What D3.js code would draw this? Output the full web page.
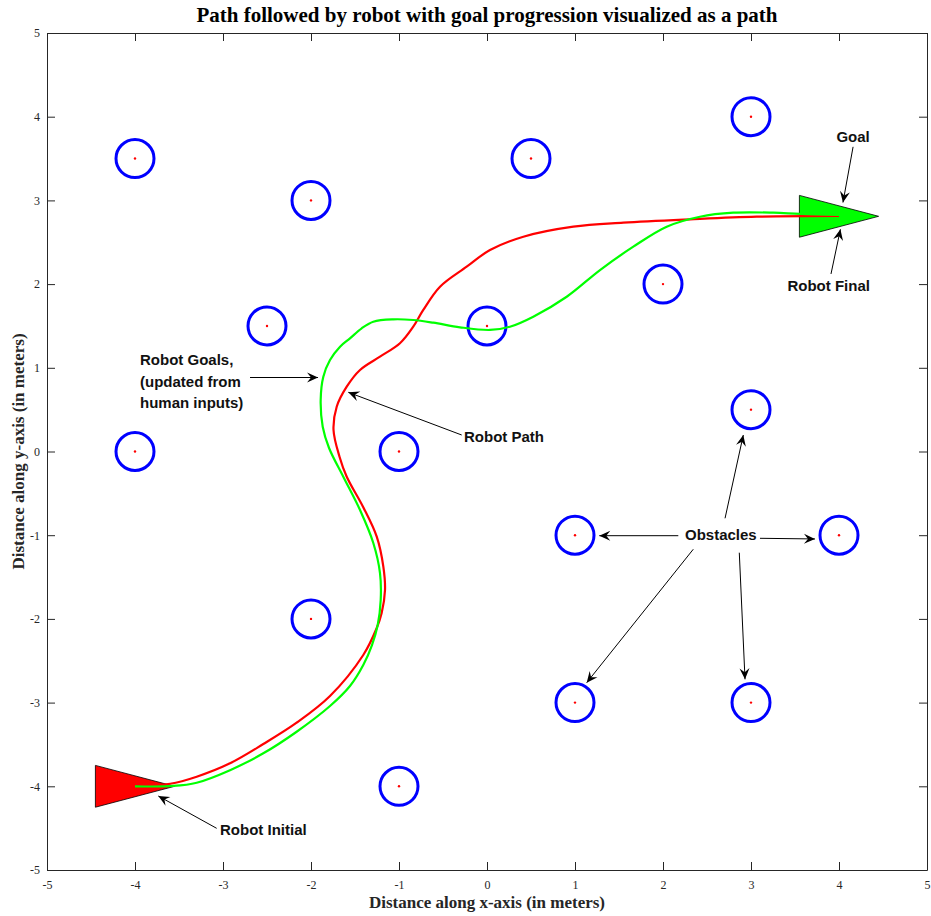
<!DOCTYPE html>
<html>
<head>
<meta charset="utf-8">
<script src="https://cdn.jsdelivr.net/npm/d3@7"></script>
<style>
  html, body { margin: 0; padding: 0; background: #fff; }
  svg { display: block; }
</style>
</head>
<body>
<svg id="chart" width="931" height="916"></svg>
<script>
// ---------------- DATA ----------------
const titleText = "Path followed by robot with goal progression visualized as a path";
const xLabelText = "Distance along x-axis (in meters)";
const yLabelText = "Distance along y-axis (in meters)";
const xTicks = [-5, -4, -3, -2, -1, 0, 1, 2, 3, 4, 5];
const yTicks = [-5, -4, -3, -2, -1, 0, 1, 2, 3, 4, 5];

const obstacleX = [-4, -2, 0.5, 3, -2.5, 0, 2, -4, -1, 3, 1, 4, -2, 1, 3, -1];
const obstacleY = [3.5, 3, 3.5, 4, 1.5, 1.5, 2, 0, 0, 0.5, -1, -1, -2, -3, -3, -4];

// Robot path (red)
const robotPathX = [-4.0, -3.6, -3.299, -2.92, -2.542, -2.163, -1.784, -1.406, -1.253, -1.197, -1.159, -1.178, -1.253, -1.409, -1.594, -1.676, -1.744, -1.708, -1.594, -1.443, -1.216, -0.989, -0.838, -0.724, -0.534, -0.231, 0.034, 0.413, 0.981, 1.549, 2.307, 3.065, 4.0];
const robotPathY = [-4.0, -3.97, -3.885, -3.725, -3.495, -3.24, -2.921, -2.431, -2.109, -1.93, -1.655, -1.376, -1.018, -0.66, -0.301, -0.062, 0.257, 0.535, 0.774, 0.974, 1.133, 1.293, 1.491, 1.691, 1.969, 2.208, 2.407, 2.566, 2.686, 2.734, 2.774, 2.805, 2.814];

// Goal progression path (green)
const goalPathX = [-4.0, -3.568, -3.299, -2.92, -2.542, -2.163, -1.784, -1.557, -1.406, -1.307, -1.242, -1.208, -1.216, -1.292, -1.443, -1.633, -1.795, -1.867, -1.89, -1.86, -1.784, -1.67, -1.557, -1.424, -1.292, -1.065, -0.838, -0.61, -0.307, 0.034, 0.261, 0.526, 0.906, 1.284, 1.663, 2.042, 2.42, 2.799, 3.253, 3.557, 4.0];
const goalPathY = [-4.0, -3.996, -3.957, -3.807, -3.606, -3.348, -3.041, -2.802, -2.551, -2.312, -2.073, -1.774, -1.452, -1.093, -0.699, -0.301, 0.042, 0.296, 0.615, 0.894, 1.093, 1.252, 1.352, 1.472, 1.551, 1.579, 1.571, 1.539, 1.484, 1.452, 1.491, 1.611, 1.849, 2.168, 2.447, 2.686, 2.805, 2.853, 2.853, 2.838, 2.826];

// Robot poses (initial / final) [x, y]
const initialPose = [-4.0, -4.0];
const finalPose = [4.0, 2.81];

// Annotations: text lines + anchor (data coords)
const annoTexts = [["Goal"], ["Robot Final"], ["Robot Goals,", "(updated from", "human inputs)"], ["Robot Path"], ["Robot Initial"], ["Obstacles"]];
const annoTextX = [4.16, 3.883, -3.943, -0.261, -3.034, 2.25];
const annoTextY = [3.70, 1.918, 1.033, 0.114, -4.582, -1.057];
const annoAnchor = ["middle", "middle", "start", "start", "start", "start"];
// Arrows: from (x1,y1) to (x2,y2)
const arrowX1 = [4.16, 3.909, -2.693, -0.2875, -3.072, 2.705, 2.174, 3.102, 2.344, 2.867];
const arrowY1 = [3.64, 2.121, 0.884, 0.197, -4.502, -0.798, -1.006, -1.037, -1.168, -1.209];
const arrowX2 = [4.045, 4.016, -1.92, -1.576, -3.735, 2.9125, 1.276, 3.727, 1.133, 2.932];
const arrowY2 = [2.975, 2.655, 0.884, 0.707, -4.116, 0.197, -1.006, -1.045, -2.762, -2.722];

// ---------------- LAYOUT ----------------
const W = 931, H = 916;
const margin = { left: 47, right: 4, top: 33, bottom: 46 };
const iw = W - margin.left - margin.right;
const ih = H - margin.top - margin.bottom;

const svg = d3.select("#chart");
const g = svg.append("g").attr("transform", `translate(${margin.left},${margin.top})`);

const x = d3.scaleLinear().domain([-5, 5]).range([0, iw]);
const y = d3.scaleLinear().domain([-5, 5]).range([ih, 0]);

const axisColor = "#262626";
const tickLen = 8;

// Background
g.append("rect").attr("width", iw).attr("height", ih).attr("fill", "#fff");

// Axes (inward ticks on all four sides)
const fmt = d => String(d);
const axB = g.append("g").attr("transform", `translate(0,${ih})`)
  .call(d3.axisBottom(x).tickValues(xTicks).tickFormat(fmt).tickSizeInner(-tickLen).tickSizeOuter(0).tickPadding(10));
const axT = g.append("g")
  .call(d3.axisTop(x).tickValues(xTicks).tickFormat("").tickSizeInner(-tickLen).tickSizeOuter(0));
const axL = g.append("g")
  .call(d3.axisLeft(y).tickValues(yTicks).tickFormat(fmt).tickSizeInner(-tickLen).tickSizeOuter(0).tickPadding(7));
const axR = g.append("g").attr("transform", `translate(${iw},0)`)
  .call(d3.axisRight(y).tickValues(yTicks).tickFormat("").tickSizeInner(-tickLen).tickSizeOuter(0));

[axB, axT, axL, axR].forEach(a => {
  a.select(".domain").attr("stroke", axisColor).attr("stroke-width", 1);
  a.selectAll(".tick line").attr("stroke", axisColor).attr("stroke-width", 1);
  a.selectAll(".tick text").attr("fill", axisColor)
    .style("font-family", "'Liberation Serif', 'Times New Roman', serif").style("font-size", "12px");
});

// Obstacles
const obstacles = obstacleX.map((d, i) => ({ x: d, y: obstacleY[i] }));
g.append("g").selectAll("circle").data(obstacles).join("circle")
  .attr("cx", d => x(d.x)).attr("cy", d => y(d.y)).attr("r", 19)
  .attr("fill", "none").attr("stroke", "#0000ff").attr("stroke-width", 3);
g.append("g").selectAll("circle").data(obstacles).join("circle")
  .attr("cx", d => x(d.x)).attr("cy", d => y(d.y)).attr("r", 1.2)
  .attr("fill", "#ff0000");

// Robot pose triangles
const triHalfLen = 0.45, triHalfWid = 0.25;
function triPts(p) {
  return [[p[0] - triHalfLen, p[1] + triHalfWid], [p[0] - triHalfLen, p[1] - triHalfWid], [p[0] + triHalfLen, p[1]]]
    .map(q => [x(q[0]), y(q[1])]);
}
g.append("polygon").attr("points", triPts(initialPose).map(p => p.join(",")).join(" "))
  .attr("fill", "#ff0000").attr("stroke", "#000").attr("stroke-width", 0.8);
g.append("polygon").attr("points", triPts(finalPose).map(p => p.join(",")).join(" "))
  .attr("fill", "#00ff00").attr("stroke", "#000").attr("stroke-width", 0.8);

// Paths
const line = d3.line().x(d => x(d[0])).y(d => y(d[1])).curve(d3.curveCatmullRom.alpha(0.5));
g.append("path").datum(robotPathX.map((d, i) => [d, robotPathY[i]]))
  .attr("d", line).attr("fill", "none").attr("stroke", "#ff0000").attr("stroke-width", 2.2);
g.append("path").datum(goalPathX.map((d, i) => [d, goalPathY[i]]))
  .attr("d", line).attr("fill", "none").attr("stroke", "#00ff00").attr("stroke-width", 2.2);

// Arrow marker
svg.append("defs").append("marker")
  .attr("id", "ah").attr("viewBox", "-12 -6 14 12")
  .attr("refX", 0).attr("refY", 0)
  .attr("markerWidth", 14).attr("markerHeight", 12)
  .attr("markerUnits", "userSpaceOnUse").attr("orient", "auto")
  .append("path").attr("d", "M0,0 L-11,-5 L-7,0 L-11,5 Z").attr("fill", "#000");

// Annotations
const annoFont = "'Liberation Sans', Arial, Helvetica, sans-serif";
arrowX1.forEach((d, i) => {
  g.append("line")
    .attr("x1", x(d)).attr("y1", y(arrowY1[i]))
    .attr("x2", x(arrowX2[i])).attr("y2", y(arrowY2[i]))
    .attr("stroke", "#000").attr("stroke-width", 1)
    .attr("marker-end", "url(#ah)");
});
annoTexts.forEach((lines, i) => {
  const t = g.append("text")
    .attr("x", x(annoTextX[i])).attr("y", y(annoTextY[i]))
    .attr("text-anchor", annoAnchor[i])
    .style("font-family", annoFont).style("font-size", "15px").style("font-weight", "bold")
    .attr("fill", "#111");
  lines.forEach((s, j) => {
    t.append("tspan").attr("x", x(annoTextX[i])).attr("dy", j === 0 ? 0 : 21.5).text(s);
  });
});

// Title & axis labels
const serif = "'Liberation Serif', 'Times New Roman', serif";
svg.append("text").attr("x", margin.left + iw / 2).attr("y", 22)
  .attr("text-anchor", "middle")
  .style("font-family", serif).style("font-size", "21px").style("font-weight", "bold")
  .attr("fill", "#000").text(titleText);
svg.append("text").attr("x", margin.left + iw / 2).attr("y", 908)
  .attr("text-anchor", "middle")
  .style("font-family", serif).style("font-size", "17px").style("font-weight", "bold")
  .attr("fill", "#262626").text(xLabelText);
svg.append("text")
  .attr("transform", `translate(24,${margin.top + ih / 2}) rotate(-90)`)
  .attr("text-anchor", "middle")
  .style("font-family", serif).style("font-size", "17px").style("font-weight", "bold")
  .attr("fill", "#262626").text(yLabelText);
</script>
</body>
</html>
